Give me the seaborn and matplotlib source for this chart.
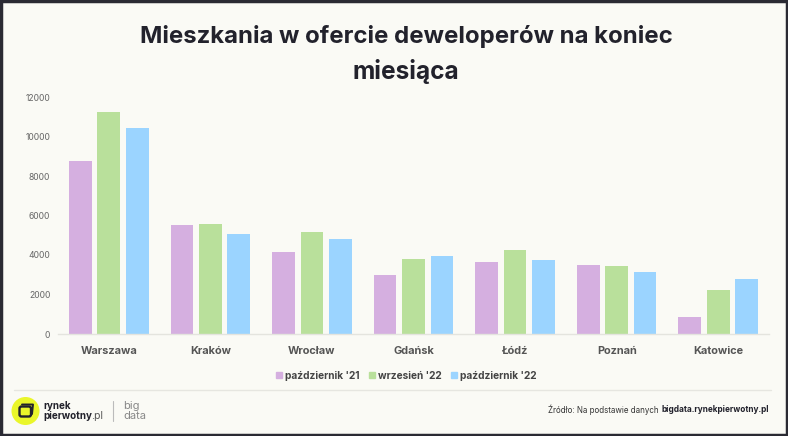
import matplotlib
matplotlib.use("Agg")
import matplotlib.pyplot as plt
import pandas as pd
import seaborn as sns
from matplotlib.patches import Circle, FancyBboxPatch, Rectangle
from matplotlib.lines import Line2D

cities = ["Warszawa", "Kraków", "Wrocław", "Gdańsk", "Łódź", "Poznań", "Katowice"]
oct21 = [8750, 5500, 4150, 3000, 3650, 3500, 850]
sep22 = [11250, 5550, 5150, 3800, 4250, 3450, 2250]
oct22 = [10450, 5050, 4800, 3950, 3750, 3150, 2800]
series = ["październik '21", "wrzesień '22", "październik '22"]
colors = ["#D5AFE0", "#B9E09B", "#9BD4FF"]
yticks = [0, 2000, 4000, 6000, 8000, 10000, 12000]

BG = "#FAFAF5"
W, H = 788, 436
sns.set_theme(style="white")
plt.rcParams["font.family"] = ["Inter", "DejaVu Sans"]

df = pd.DataFrame({"city": cities, series[0]: oct21, series[1]: sep22, series[2]: oct22})
long = df.melt(id_vars="city", var_name="period", value_name="count")

fig = plt.figure(figsize=(W / 100, H / 100), dpi=100, facecolor=BG)
ax = fig.add_axes([58 / W, 1 - 334 / H, 711 / W, 237 / H], facecolor=BG)
sns.barplot(data=long, x="city", y="count", hue="period", hue_order=series, palette=colors,
            width=0.84, gap=0.2, saturation=1, linewidth=0, ax=ax, legend=False)
ax.set_xlim(-0.5, 6.5)
ax.set_ylim(0, 12000)
ax.set_yticks(yticks, [str(v) for v in yticks])
ax.set_xlabel("")
ax.set_ylabel("")
for s in ("top", "right", "left"):
    ax.spines[s].set_visible(False)
ax.spines["bottom"].set_color("#E4E4DE")
ax.spines["bottom"].set_linewidth(1)
ax.tick_params(axis="y", length=0, pad=5.5, labelsize=6.2, labelcolor="#666666")
ax.tick_params(axis="x", length=0, pad=9, labelsize=7.9, labelcolor="#555555")
for t in ax.get_xticklabels():
    t.set_fontweight("bold")

handles = [Line2D([], [], marker="s", linestyle="", color=c, markersize=5) for c in colors]
fig.legend(handles, series, loc="center", bbox_to_anchor=(402.5 / W, 1 - 376 / H), ncol=3, frameon=False,
           prop={"size": 7.3, "weight": "bold"}, labelcolor="#444444", handletextpad=-0.4,
           columnspacing=0.2)

fig.text(406 / W, 1 - 36 / H, "Mieszkania w ofercie deweloperów na koniec", ha="center", va="center",
         fontsize=17.25, fontweight="bold", color="#22222C")
fig.text(406 / W, 1 - 72 / H, "miesiąca", ha="center", va="center",
         fontsize=17.6, fontweight="bold", color="#22222C")

# overlay in pixel coordinates
ov = fig.add_axes([0, 0, 1, 1], facecolor="none")
ov.set_xlim(0, W)
ov.set_ylim(H, 0)
ov.axis("off")
ov.add_line(Line2D([14, 771], [390, 390], color="#E6E6E0", lw=1))
ov.add_patch(Circle((25.5, 411), 14, color="#EAF62A", lw=0))
ov.add_patch(FancyBboxPatch((19.5, 406.5), 11.5, 10, boxstyle="round,pad=0,rounding_size=2",
                            fc="none", ec="#22222C", lw=1.7))
ov.add_line(Line2D([22, 33, 32], [404.5, 404.5, 414], color="#22222C", lw=1.4))
ov.text(43, 405.5, "rynek", fontsize=7.1, fontweight="bold", color="#22222C", va="center")
ov.text(43, 416, "pierwotny", fontsize=7.1, fontweight="bold", color="#22222C", va="center")
ov.text(91, 416, ".pl", fontsize=7.5, color="#555555", va="center")
ov.add_line(Line2D([113, 113], [401, 421], color="#BBBBBB", lw=0.8))
ov.text(123, 405.5, "big", fontsize=8, color="#888888", va="center")
ov.text(123, 415.5, "data", fontsize=8, color="#888888", va="center")
ov.text(769, 409.5, "bigdata.rynekpierwotny.pl", fontsize=5.95, fontweight="bold",
        color="#22222C", ha="right", va="center")
ov.text(659, 409.5, "Źródło: Na podstawie danych", fontsize=5.75, color="#333333", ha="right", va="center")
ov.add_patch(Rectangle((0.75, 0.75), W - 1.5, H - 1.5, fc="none", ec="#2A2A33", lw=2.5))

fig.savefig("out.png", dpi=100, facecolor=BG)
